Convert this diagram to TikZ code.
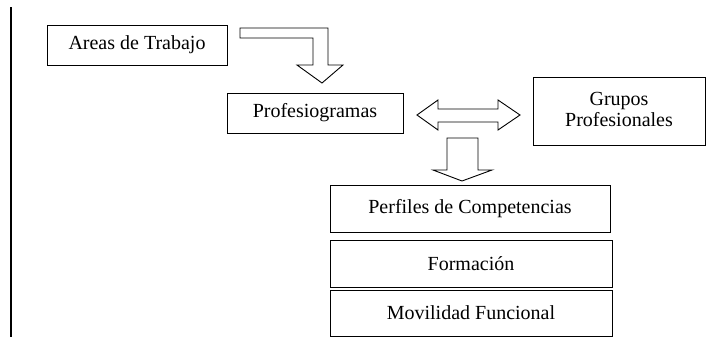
\documentclass[tikz,border=0pt]{standalone}
\usepackage{fontspec}
\setmainfont{Liberation Serif}
\usetikzlibrary{positioning}

\tikzset{
  caja/.style={draw, line width=0.9pt, inner sep=0pt, align=center,
    font=\fontsize{20}{20}\selectfont},
  flecha/.style={draw, line width=0.9pt, fill=white, line join=miter}
}

\begin{document}
\begin{tikzpicture}[x=1pt, y=-1pt]
	\useasboundingbox (0,0) rectangle (709,338);

	\coordinate (L1) at (11,7);
	\coordinate (L2) at (11,337);

	\node [caja, minimum width=180pt, minimum height=40pt] (areas) at (137,45) {Areas de Trabajo};
	\node [caja, minimum width=176pt, minimum height=40pt] (prof) at (315,113) {Profesiogramas};
	\node [caja, minimum width=172pt, minimum height=68pt] (grupos) at (619,111) {\raisebox{3pt}{\shortstack{Grupos\\Profesionales}}};
	\node [caja, minimum width=280pt, minimum height=47pt] (perfiles) at (470,208.5) {Perfiles de Competencias};
	\node [caja, minimum width=282pt, minimum height=47pt] (formacion) at (471,263.5) {Formación};
	\node [caja, minimum width=282pt, minimum height=46pt] (movilidad) at (471,313) {Movilidad Funcional};

	\draw [line width=1.4pt] (L1) -- (L2);

	% flecha acodada
	\draw [flecha] (240,28) -- (328,28) -- (328,65) -- (343,65) -- (322,83)
		-- (297,65) -- (313,65) -- (313,38) -- (240,38) -- cycle;
	% flecha doble
	\draw [flecha] (417,115) -- (438,100) -- (438,109) -- (498,109) -- (498,100)
		-- (520,115) -- (498,130) -- (498,122) -- (438,122) -- (438,130) -- cycle;
	% flecha hacia abajo
	\draw [flecha] (447,138) -- (478,138) -- (478,170) -- (492,170) -- (462,181)
		-- (433,170) -- (447,170) -- cycle;
\end{tikzpicture}
\end{document}
